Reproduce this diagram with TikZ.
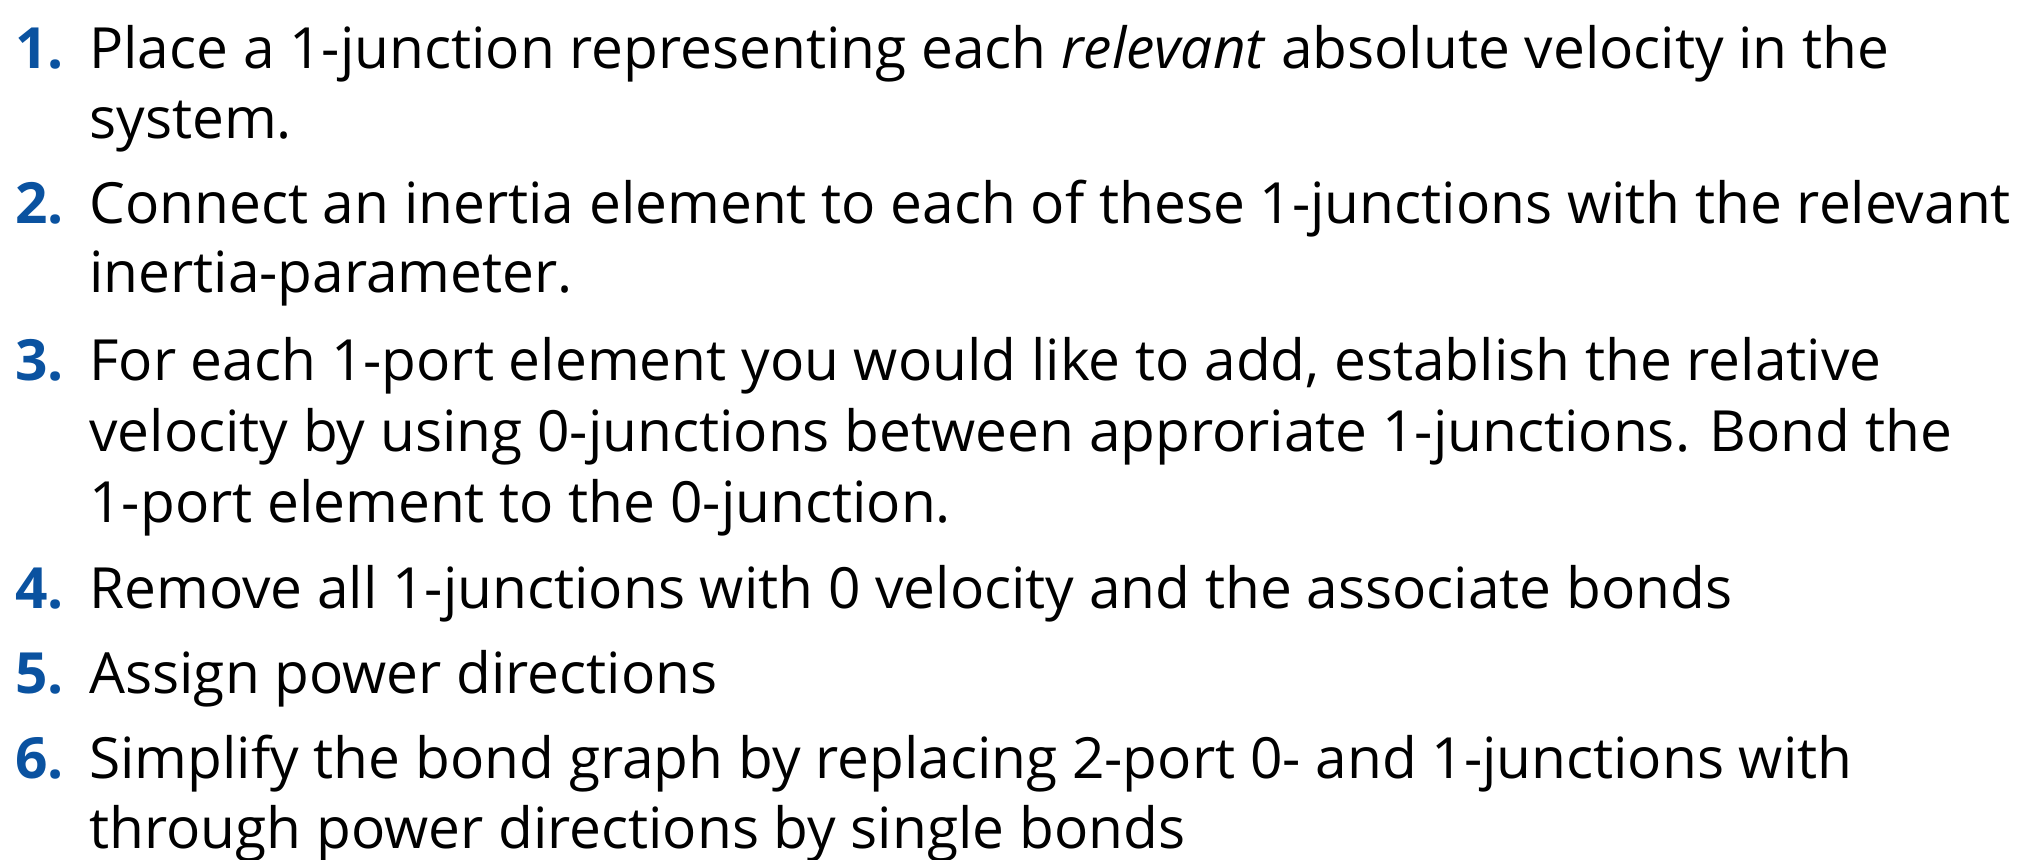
\documentclass[tikz,border=0pt]{standalone}
\usepackage{fontspec}
\setmainfont{Open Sans}
\usepackage{tikz}
\definecolor{stepblue}{RGB}{10,82,160}

\begin{document}
\begin{tikzpicture}[x=0.5pt,y=-0.5pt,
    stepnum/.style={anchor=base west,inner sep=0pt,text=stepblue,font=\fontsize{28.4}{35}\selectfont\bfseries},
    stepline/.style={anchor=base west,inner sep=0pt,font=\fontsize{28.4}{35}\selectfont}]
    % page frame
    \useasboundingbox (0,0) rectangle (2017,859);

    % step numbers
    \node[stepnum] (n1) at (15,68) {1.};
    \node[stepnum] (n2) at (15,223) {2.};
    \node[stepnum] (n3) at (15,380) {3.};
    \node[stepnum] (n4) at (15,608) {4.};
    \node[stepnum] (n5) at (15,693) {5.};
    \node[stepnum] (n6) at (15,778) {6.};

    % step texts
    \node[stepline] (t1a) at (89,68) {Place a 1-junction representing each \emph{relevant} absolute velocity in the};
    \node[stepline] (t1b) at (89,138) {system.};
    \node[stepline] (t2a) at (89,223) {Connect an inertia element to each of these 1-junctions with the relevant};
    \node[stepline] (t2b) at (89,292) {inertia-parameter.};
    \node[stepline] (t3a) at (89,380) {For each 1-port element you would like to add, establish the relative};
    \node[stepline] (t3b) at (89,451) {velocity by using 0-junctions between approriate 1-junctions. Bond the};
    \node[stepline] (t3c) at (89,522) {1-port element to the 0-junction.};
    \node[stepline] (t4) at (89,608) {Remove all 1-junctions with 0 velocity and the associate bonds};
    \node[stepline] (t5) at (89,693) {Assign power directions};
    \node[stepline] (t6a) at (89,778) {Simplify the bond graph by replacing 2-port 0- and 1-junctions with};
    \node[stepline] (t6b) at (89,848) {through power directions by single bonds};
\end{tikzpicture}
\end{document}
